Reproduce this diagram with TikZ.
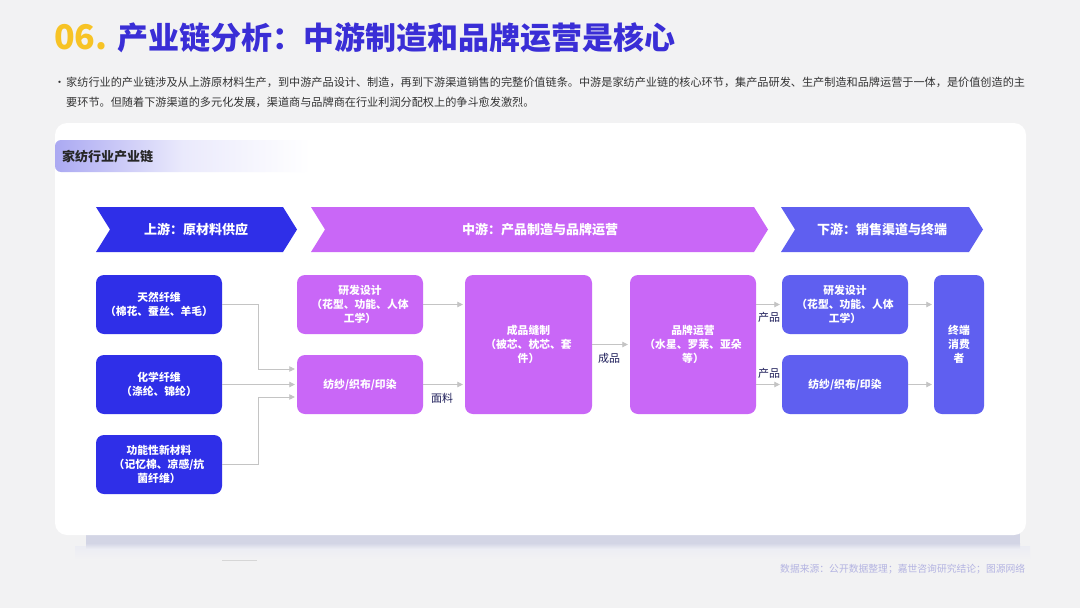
\documentclass[tikz,border=0pt]{standalone}
\usepackage{fontspec}
\setmainfont{Noto Sans CJK SC}
\usetikzlibrary{arrows.meta,calc}
\definecolor{bgc}{HTML}{F2F2F3}
\definecolor{titleblue}{HTML}{3A2ED6}
\definecolor{titleyellow}{HTML}{F7C325}
\definecolor{upblue}{HTML}{2F2FE8}
\definecolor{midpurple}{HTML}{C967F7}
\definecolor{downblue}{HTML}{5F5FF0}
\definecolor{conngray}{HTML}{C4C4C4}
\definecolor{labnavy}{HTML}{1E1E5A}
\definecolor{bodytext}{HTML}{333333}
\definecolor{footc}{HTML}{B4B4E2}
\definecolor{hdrc}{HTML}{ABA9F2}
\definecolor{shadowc}{HTML}{D3D5E5}
\tikzset{
  boxbase/.style={rounded corners=8pt, minimum width=126pt, minimum height=59pt, inner sep=2pt,
    text=white, align=center, font=\fontsize{10.8}{13.8}\selectfont\bfseries},
  upbox/.style={boxbase, fill=upblue},
  midbox/.style={boxbase, fill=midpurple},
  downbox/.style={boxbase, fill=downblue},
  chevtext/.style={text=white, font=\fontsize{13}{15}\selectfont\bfseries},
  conn/.style={draw=conngray, line width=0.8pt, shorten >=2pt,
    -{Triangle[width=5.5pt,length=5.5pt]}},
  flowlab/.style={text=labnavy, font=\fontsize{11}{13}\selectfont, inner sep=1pt}
}
\begin{document}
\begin{tikzpicture}[x=1pt,y=-1pt]
\useasboundingbox (0,0) rectangle (1080,608);
\fill[bgc] (0,0) rectangle (1080,608);

% title
\node[anchor=west, inner sep=0pt, font=\fontsize{31}{36}\selectfont\bfseries] (title) at (54,38)
  {\textcolor{titleyellow}{\fontsize{34}{36}\selectfont 06.}\hspace{10pt}\textcolor{titleblue}{产业链分析：中游制造和品牌运营是核心}};

% bullet text
\node[anchor=west, inner sep=0pt, text=bodytext, font=\fontsize{11}{11}\selectfont] (bul) at (54,84) {•};
\node[anchor=north west, inner sep=0pt, text=bodytext, align=left,
  font=\fontsize{11.15}{20}\selectfont] (intro) at (66,77)
  {家纺行业的产业链涉及从上游原材料生产，到中游产品设计、制造，再到下游渠道销售的完整价值链条。中游是家纺产业链的核心环节，集产品研发、生产制造和品牌运营于一体，是价值创造的主\\
   要环节。但随着下游渠道的多元化发展，渠道商与品牌商在行业利润分配权上的争斗愈发激烈。};

% card shadow and card
\shade[top color=shadowc!45, bottom color=bgc] (75,546) rectangle (1030,560);
\fill[shadowc] (86,530) rectangle (1020,543);
\shade[top color=shadowc, bottom color=shadowc!40] (86,543) rectangle (1020,549);
\fill[white, rounded corners=12pt] (55,123) rectangle (1026,535);
\draw[conngray!70, line width=0.8pt] (222,560) -- (257,560);

% section header
\begin{scope}
\clip[rounded corners=6pt] (55,140) rectangle (310,172);
\shade[left color=hdrc, right color=white, middle color=hdrc!25] (55,140) rectangle (310,172);
\end{scope}
\node[anchor=west, inner sep=0pt, text=black!85, font=\fontsize{13}{15}\selectfont\bfseries] (hdr) at (62,157) {家纺行业产业链};

% chevrons
\fill[upblue] (96,207) -- (283,207) -- (297,229.5) -- (283,252) -- (96,252) -- (110,229.5) -- cycle;
\fill[midpurple] (311,207) -- (754,207) -- (768,229.5) -- (754,252) -- (311,252) -- (325,229.5) -- cycle;
\fill[downblue] (781,207) -- (969,207) -- (983,229.5) -- (969,252) -- (781,252) -- (795,229.5) -- cycle;
\node[chevtext] (upc) at (196,229.5) {上游：原材料供应};
\node[chevtext] (midc) at (540,229.5) {中游：产品制造与品牌运营};
\node[chevtext] (downc) at (882,229.5) {下游：销售渠道与终端};

% upstream boxes
\node[upbox] (nat) at (159,304.5) {天然纤维\\（棉花、蚕丝、羊毛）};
\node[upbox] (chem) at (159,384.5) {化学纤维\\（涤纶、锦纶）};
\node[upbox] (func) at (159,464.5) {功能性新材料\\（记忆棉、凉感/抗\\菌纤维）};

% midstream boxes
\node[midbox] (rd) at (360,304.5) {研发设计\\（花型、功能、人体\\工学）};
\node[midbox] (spin) at (360,384.5) {纺纱/织布/印染};
\node[midbox, minimum width=127pt, minimum height=139pt] (sew) at (528.5,344.5) {成品缝制\\（被芯、枕芯、套\\件）};
\node[midbox, minimum width=126pt, minimum height=139pt] (brand) at (693,344.5) {品牌运营\\（水星、罗莱、亚朵\\等）};

% downstream boxes
\node[downbox] (drd) at (845,304.5) {研发设计\\（花型、功能、人体\\工学）};
\node[downbox] (dspin) at (845,384.5) {纺纱/织布/印染};
\node[downbox, minimum width=50pt, minimum height=139pt] (cons) at (959,344.5) {终端\\消费\\者};

% connectors
\draw[conn] (nat.east) -- ++(36,0) |- ($(spin.west)+(0,-15.5)$);
\draw[conn] (chem.east) -- (spin.west);
\draw[conn] (func.east) -- ++(36,0) |- ($(spin.west)+(0,12.5)$);
\draw[conn] (rd.east) -- (rd.east -| sew.west);
\draw[conn] (spin.east) -- (spin.east -| sew.west);
\draw[conn] (sew.east) -- (brand.west);
\draw[conn] (brand.east |- drd.east) -- (drd.west);
\draw[conn] (brand.east |- dspin.east) -- (dspin.west);
\draw[conn] (drd.east) -- (drd.east -| cons.west);
\draw[conn] (dspin.east) -- (dspin.east -| cons.west);

% flow labels
\node[flowlab] (l1) at (442,398) {面料};
\node[flowlab] (l2) at (609,358) {成品};
\node[flowlab] (l3) at (769,317) {产品};
\node[flowlab] (l4) at (769,373) {产品};

% footer
\node[anchor=west, inner sep=0pt, text=footc, font=\fontsize{9.8}{12}\selectfont] (foot) at (780,569)
  {数据来源：公开数据整理；嘉世咨询研究结论；图源网络};
\end{tikzpicture}
\end{document}
